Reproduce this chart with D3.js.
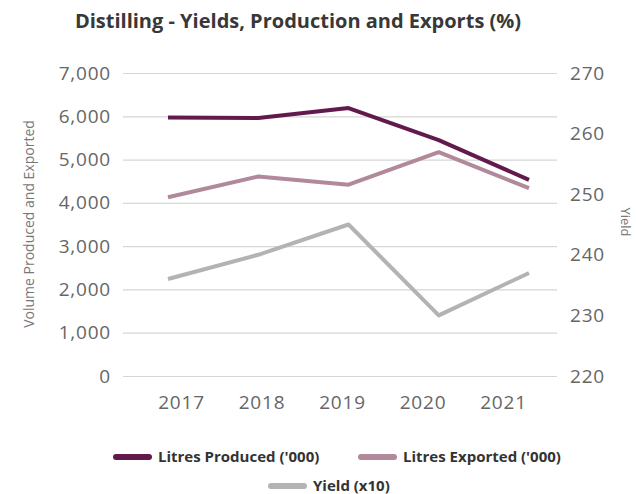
<!DOCTYPE html>
<html><head><meta charset="utf-8">
<script src="https://cdn.jsdelivr.net/npm/d3@7"></script>
<style>body{margin:0;background:#fff;} svg{display:block;font-family:"Open Sans",Lato,sans-serif;}</style>
</head><body>
<svg id="c" width="636" height="494"></svg>
<script>
const years = ["2017","2018","2019","2020","2021"];
const produced = [5970, 5960, 6190, 5450, 4530];
const exported = [4130, 4610, 4420, 5170, 4340];
const yieldX10 = [236, 240, 245, 230, 237];
const leftTicks = [0,1000,2000,3000,4000,5000,6000,7000];
const rightTicks = [220,230,240,250,260,270];
const seriesNames = ["Litres Produced ('000)", "Litres Exported ('000)", "Yield (x10)"];
const colors = ["#621a4c", "#b0899b", "#b3b3b5"];

const svg = d3.select("#c");
const plotTop = 73, plotBottom = 376, gx0 = 123, gx1 = 557;
const yL = d3.scaleLinear().domain([0,7000]).range([plotBottom, plotTop]);
const yR = d3.scaleLinear().domain([220,270]).range([plotBottom, plotTop]);
const xP = d3.scalePoint().domain(years).range([168, 529]);
const xLab = d3.scalePoint().domain(years).range([181, 503]);

svg.append("text").attr("x", 298).attr("y", 28).attr("text-anchor","middle")
  .attr("font-size", 20).attr("font-weight", 700).attr("fill", "#383838")
  .text("Distilling - Yields, Production and Exports (%)");

const tickFont = sel => sel.attr("font-size", 19).attr("fill", "#666")
  .attr("font-family", "'Open Sans', sans-serif").attr("letter-spacing", 0.8);

// grid + left axis
const gl = svg.append("g").attr("transform", `translate(${gx0},0)`)
  .call(d3.axisLeft(yL).tickValues(leftTicks).tickSize(-(gx1-gx0)).tickPadding(12).tickFormat(d3.format(",")));
gl.select(".domain").remove();
gl.selectAll(".tick line").attr("stroke", "#d6d6d6").attr("stroke-width", 1.2);
gl.selectAll(".tick text").call(tickFont);

// right axis
const gr = svg.append("g").attr("transform", `translate(${gx1},0)`)
  .call(d3.axisRight(yR).tickValues(rightTicks).tickSize(0).tickPadding(13));
gr.select(".domain").remove();
gr.selectAll(".tick text").call(tickFont);

// x labels
const gxA = svg.append("g").attr("transform", `translate(0,${plotBottom})`)
  .call(d3.axisBottom(xLab).tickSize(0).tickPadding(20));
gxA.select(".domain").remove();
gxA.selectAll(".tick text").call(tickFont);

// axis titles
svg.append("text").attr("transform", "translate(29,224) rotate(-90)").attr("text-anchor","middle")
  .attr("dy", "0.35em").attr("font-size", 14).attr("fill", "#777").text("Volume Produced and Exported");
svg.append("text").attr("transform", "translate(626,222) rotate(90)").attr("text-anchor","middle")
  .attr("dy", "0.35em").attr("font-size", 13).attr("fill", "#777").text("Yield");

// lines
const lineL = d3.line().x((d,i)=>xP(years[i])).y(d=>yL(d));
const lineR = d3.line().x((d,i)=>xP(years[i])).y(d=>yR(d));
svg.append("path").datum(yieldX10).attr("d", lineR).attr("fill","none").attr("stroke", colors[2]).attr("stroke-width", 4).attr("stroke-linejoin","round");
svg.append("path").datum(exported).attr("d", lineL).attr("fill","none").attr("stroke", colors[1]).attr("stroke-width", 4).attr("stroke-linejoin","round");
svg.append("path").datum(produced).attr("d", lineL).attr("fill","none").attr("stroke", colors[0]).attr("stroke-width", 4).attr("stroke-linejoin","round");

// legend
const legendPos = [[113,457],[358,457],[268,486]];
seriesNames.forEach((n,i)=>{
  const [lx,ly] = legendPos[i];
  svg.append("line").attr("x1", lx+3).attr("x2", lx+36).attr("y1", ly).attr("y2", ly)
    .attr("stroke", colors[i]).attr("stroke-width", 6).attr("stroke-linecap","round");
  svg.append("text").attr("x", lx+45).attr("y", ly).attr("dy", "0.35em").attr("font-size", 15).attr("font-weight", 700)
    .attr("fill", "#333").text(n);
});
</script>
</body></html>
